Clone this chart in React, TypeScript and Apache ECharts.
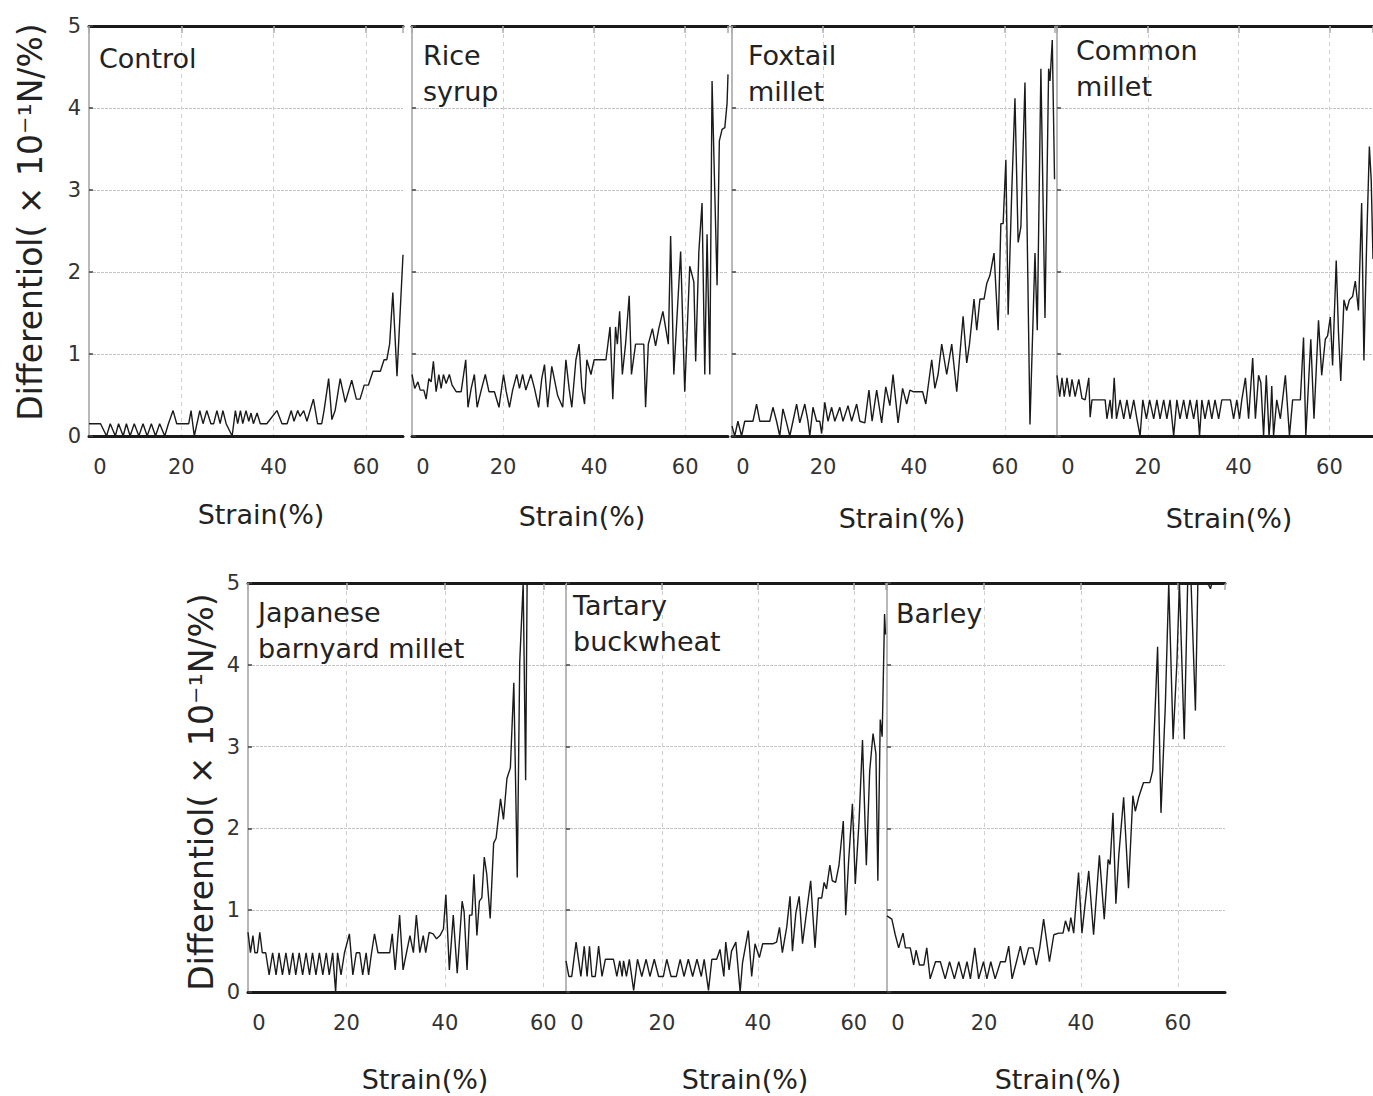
import React, { useEffect, useRef } from 'react';
import * as echarts from 'echarts';

// ---- Data: [strain (%), differential (x10^-1 N/%)] ----
const control: number[][] = [
  [0,0.15],[2.5,0.15],[3.8,0],[4.6,0.15],[5.7,0],[6.4,0.15],[7.4,0],[8.1,0.15],[8.9,0],[9.8,0.15],[10.8,0],[11.7,0.15],[12.6,0],[13.5,0.15],[14.4,0],[15.3,0.15],[16.4,0],[17.2,0.15],[18.2,0.31],[19.0,0.15],[21.6,0.15],[22.1,0.31],[22.8,0],[24.0,0.31],[24.7,0.15],[25.5,0.31],[26.4,0.15],[27.0,0.15],[27.7,0.31],[28.4,0.15],[29.0,0.31],[29.7,0.15],[31.0,0],[31.7,0.31],[32.2,0.15],[32.8,0.31],[33.3,0.15],[34.0,0.31],[34.6,0.18],[35.1,0.28],[35.6,0.15],[36.4,0.28],[37.1,0.15],[38.5,0.15],[40.7,0.31],[41.8,0.15],[42.9,0.15],[43.8,0.31],[44.4,0.18],[45.2,0.31],[45.7,0.24],[46.5,0.31],[47.2,0.18],[48.6,0.45],[49.5,0.15],[50.4,0.15],[50.9,0.31],[51.9,0.7],[52.6,0.2],[53.3,0.31],[54.4,0.7],[55.5,0.41],[56.9,0.68],[57.9,0.45],[58.7,0.45],[59.6,0.62],[60.5,0.62],[61.5,0.79],[63.1,0.79],[63.9,0.93],[64.5,0.93],[65.1,1.12],[65.8,1.75],[66.7,0.73],[68,2.21]
];
const riceSyrup: number[][] = [
  [0,0.75],[0.6,0.58],[1.3,0.66],[1.8,0.56],[2.6,0.56],[3.1,0.45],[3.7,0.7],[4.2,0.66],[4.7,0.91],[5.3,0.54],[5.9,0.75],[6.4,0.58],[6.9,0.75],[7.5,0.64],[8.2,0.75],[8.8,0.62],[9.7,0.54],[10.8,0.54],[11.8,0.93],[12.3,0.35],[13.0,0.58],[13.7,0.75],[14.3,0.35],[15.2,0.56],[16.1,0.75],[16.9,0.54],[18.1,0.54],[19.1,0.35],[20.1,0.75],[20.7,0.54],[21.4,0.35],[22.1,0.56],[23.0,0.75],[23.6,0.58],[24.3,0.75],[25.0,0.56],[26.1,0.75],[26.9,0.58],[27.8,0.35],[28.5,0.7],[29.1,0.87],[29.8,0.35],[30.7,0.85],[32.0,0.49],[33.1,0.35],[33.8,0.93],[34.5,0.58],[35.1,0.35],[36.0,0.93],[36.7,1.12],[37.3,0.58],[37.9,0.39],[38.4,0.93],[39.3,0.75],[40.0,0.93],[42.6,0.93],[43.5,1.33],[44.1,0.45],[44.7,1.33],[45.1,1.12],[45.6,1.52],[46.2,0.75],[46.9,1.12],[47.7,1.71],[48.2,0.75],[49.1,1.12],[50.9,1.12],[51.3,0.35],[51.9,1.12],[52.8,1.31],[53.5,1.1],[54.2,1.31],[55.1,1.52],[56.3,1.12],[56.8,2.44],[57.5,0.75],[59.0,2.25],[59.9,0.54],[61.0,2.07],[61.9,1.88],[62.3,0.91],[63.0,2.25],[63.7,2.84],[64.3,0.75],[64.8,2.46],[65.4,0.75],[65.9,4.33],[67.0,1.84],[67.5,3.6],[68.1,3.74],[68.7,3.76],[69.2,4.06],[69.4,4.41]
];
const foxtailMillet: number[][] = [
  [0,0.12],[0.6,0],[1.3,0.18],[2.1,0],[2.8,0.18],[4.6,0.18],[5.4,0.39],[6.1,0.18],[8.3,0.18],[9.0,0.35],[9.8,0.18],[10.5,0],[11.2,0.33],[12.0,0.16],[12.7,0],[13.4,0.18],[14.2,0.39],[14.9,0.16],[16.0,0.39],[16.7,0.18],[17.1,0],[17.8,0.35],[18.6,0.18],[19.3,0.18],[19.7,0.03],[20.4,0.41],[21.1,0.18],[21.9,0.35],[22.6,0.18],[23.7,0.35],[24.4,0.18],[25.5,0.37],[26.3,0.18],[27.4,0.39],[28.1,0.18],[29.2,0.16],[30.1,0.56],[30.8,0.18],[31.8,0.56],[32.9,0.16],[33.8,0.6],[34.7,0.37],[35.4,0.75],[36.5,0.16],[37.5,0.58],[38.4,0.39],[39.1,0.56],[39.8,0.54],[41.9,0.54],[42.6,0.39],[43.9,0.93],[44.6,0.58],[45.3,0.75],[46.1,1.12],[47.2,0.75],[48.3,1.12],[49.4,0.54],[50.8,1.46],[51.6,0.89],[52.2,1.12],[53.2,1.67],[53.8,1.29],[54.5,1.67],[55.4,1.67],[56.0,1.86],[56.7,1.96],[57.6,2.23],[58.5,1.29],[59.1,2.59],[59.6,2.59],[60.2,3.37],[60.7,1.48],[61.5,2.99],[62.2,4.12],[62.9,2.36],[63.5,2.55],[64.4,4.31],[65.5,0.14],[66.6,2.23],[67.1,1.29],[67.9,4.48],[68.8,1.44],[69.6,4.48],[69.9,4.33],[70.4,4.83],[70.9,3.13]
];
const commonMillet: number[][] = [
  [0,0.74],[0.6,0.48],[1.1,0.71],[1.6,0.48],[2.2,0.71],[2.8,0.48],[3.3,0.69],[4.0,0.48],[4.8,0.69],[5.5,0.46],[6.2,0.44],[7.0,0.71],[7.3,0.23],[7.7,0.44],[10.6,0.44],[11.0,0.21],[11.7,0.44],[12.1,0.21],[12.6,0.71],[13.1,0.21],[13.9,0.44],[14.7,0.21],[15.4,0.44],[16.1,0.21],[16.9,0.44],[17.6,0.21],[18.3,0],[18.9,0.44],[19.7,0.21],[20.4,0.44],[21.3,0.21],[22.0,0.44],[22.7,0.21],[23.5,0.44],[24.2,0.21],[24.9,0.44],[25.7,0],[26.4,0.44],[27.1,0.21],[27.9,0.44],[28.6,0.21],[29.3,0.44],[30.1,0.21],[30.8,0.44],[31.4,0],[31.9,0.44],[32.6,0.21],[33.4,0.44],[34.1,0.21],[34.8,0.44],[35.6,0.21],[36.3,0.44],[38.2,0.44],[38.9,0.21],[39.6,0.44],[40.2,0.21],[40.7,0.44],[41.5,0.71],[42.2,0.21],[43.1,0.95],[43.7,0.21],[44.4,0.74],[44.9,0.65],[45.5,0],[46.1,0.74],[46.7,0],[47.0,0.21],[47.3,0.61],[47.7,0],[48.4,0.44],[49.2,0.21],[50.3,0.74],[51.2,0],[51.9,0.44],[53.6,0.44],[54.3,1.2],[54.8,0],[55.9,1.18],[56.6,0.21],[57.6,1.41],[58.3,0.74],[59.1,1.18],[59.6,1.22],[60.2,1.45],[60.7,0.86],[61.5,2.14],[62.0,1.26],[62.5,0.67],[63.2,1.66],[63.8,1.53],[64.4,1.66],[65.1,1.7],[65.7,1.89],[66.4,1.53],[67.1,2.84],[67.6,0.92],[68.2,2.35],[68.8,3.53],[69.2,3.13],[69.6,2.16]
];
const japaneseBarnyardMillet: number[][] = [
  [0,0.73],[0.5,0.48],[1.0,0.69],[1.4,0.48],[1.9,0.48],[2.4,0.73],[2.9,0.48],[3.6,0.48],[4.3,0.21],[5.0,0.48],[5.7,0.21],[6.3,0.48],[7.0,0.21],[7.7,0.48],[8.4,0.21],[9.1,0.48],[9.7,0.21],[10.4,0.48],[11.1,0.21],[11.8,0.48],[12.5,0.21],[13.1,0.48],[13.8,0.21],[14.5,0.48],[15.2,0.21],[15.9,0.48],[16.5,0.21],[17.2,0.48],[17.8,0],[18.2,0.48],[18.9,0.21],[19.6,0.48],[20.6,0.71],[21.3,0.21],[22.0,0.48],[22.7,0.48],[23.3,0.21],[24.0,0.48],[24.5,0.21],[25.1,0.48],[25.7,0.71],[26.4,0.48],[28.8,0.48],[29.3,0.71],[29.9,0.27],[30.8,0.94],[31.5,0.27],[32.2,0.48],[32.9,0.69],[33.6,0.48],[34.2,0.94],[34.9,0.48],[35.6,0.69],[36.1,0.48],[36.8,0.73],[37.6,0.71],[38.3,0.65],[39.0,0.69],[39.7,0.77],[40.2,1.19],[40.9,0.27],[41.7,0.94],[42.5,0.23],[43.5,1.11],[43.9,0.98],[44.5,0.27],[45.0,0.94],[45.5,0.94],[45.9,1.44],[46.5,0.69],[47.0,1.11],[47.5,1.15],[48.0,1.65],[48.5,1.44],[49.2,0.9],[49.9,1.82],[50.4,1.88],[51.3,2.36],[51.9,2.11],[52.6,2.61],[53.3,2.74],[54.0,3.78],[54.7,1.4],[55.2,4.03],[55.9,5],[56.4,2.59],[56.7,5],[64.6,5]
];
const tartaryBuckwheat: number[][] = [
  [0,0.38],[0.6,0.19],[1.2,0.19],[2.1,0.61],[2.6,0.4],[3.1,0.19],[3.8,0.56],[4.4,0.19],[4.9,0.56],[5.4,0.19],[6.1,0.19],[6.8,0.56],[7.5,0.19],[8.2,0.4],[9.9,0.4],[10.6,0.19],[11.2,0.38],[11.7,0.19],[12.0,0.38],[12.6,0.19],[13.2,0.4],[14.1,0.02],[14.9,0.4],[15.8,0.19],[16.7,0.4],[17.5,0.19],[18.4,0.4],[19.3,0.19],[20.3,0.19],[21.0,0.4],[21.9,0.19],[23.0,0.19],[23.8,0.4],[24.6,0.19],[25.5,0.4],[26.4,0.19],[27.3,0.4],[28.2,0.19],[28.8,0.4],[29.7,0.02],[30.4,0.4],[31.4,0.4],[32.1,0.52],[32.9,0.19],[33.3,0.61],[34.0,0.27],[34.5,0.5],[35.4,0.61],[36.3,0],[36.8,0.36],[38.0,0.75],[38.7,0.19],[39.4,0.59],[40.3,0.42],[41.0,0.59],[43.2,0.59],[43.9,0.61],[44.5,0.79],[45.1,0.48],[46.0,0.79],[46.7,1.17],[47.2,0.5],[47.9,0.96],[48.6,1.17],[49.3,0.59],[50.1,0.96],[51.0,1.36],[51.9,0.54],[52.6,1.15],[53.3,1.15],[53.8,1.34],[54.3,1.26],[55.0,1.55],[55.5,1.36],[56.2,1.34],[56.9,1.55],[57.8,2.09],[58.3,0.94],[58.9,1.59],[59.7,2.3],[60.3,1.32],[61.1,2.11],[61.8,3.08],[62.6,1.55],[63.3,2.7],[64.0,3.16],[64.6,2.91],[65.0,1.36],[65.5,3.33],[65.9,3.12],[66.4,4.62],[66.6,4.37]
];
const barley: number[][] = [
  [0,0.93],[1.0,0.89],[1.7,0.7],[2.4,0.54],[3.3,0.72],[3.8,0.54],[4.8,0.54],[5.5,0.33],[6.0,0.51],[6.7,0.33],[7.6,0.33],[8.2,0.54],[8.9,0.16],[10.0,0.37],[11.0,0.37],[12.0,0.16],[12.9,0.37],[13.9,0.16],[14.8,0.37],[15.7,0.16],[16.5,0.37],[17.2,0.16],[18.1,0.54],[18.9,0.16],[19.9,0.37],[20.6,0.16],[21.4,0.37],[22.3,0.16],[23.4,0.37],[24.4,0.37],[25.1,0.56],[25.8,0.16],[26.7,0.37],[27.5,0.56],[28.3,0.33],[29.2,0.54],[30.1,0.54],[30.8,0.33],[31.5,0.54],[32.3,0.89],[33.5,0.37],[34.4,0.7],[35.4,0.72],[36.3,0.72],[36.8,0.87],[37.5,0.74],[37.9,0.91],[38.5,0.72],[38.8,0.95],[39.5,1.46],[40.2,0.72],[41.6,1.48],[42.6,0.7],[43.8,1.67],[44.8,0.89],[45.6,1.62],[46.0,1.56],[46.6,2.19],[47.2,1.08],[47.8,1.67],[48.8,2.38],[49.8,1.27],[50.7,2.4],[51.2,2.21],[51.9,2.38],[52.9,2.56],[54.2,2.56],[54.8,2.71],[55.8,4.22],[56.5,2.19],[57.4,3.51],[58.1,5],[59.0,3.09],[59.8,4.05],[60.3,5],[61.3,3.09],[62.0,5],[62.7,5],[63.6,3.44],[64.1,5],[66.3,4.98],[66.7,4.93],[67.0,5],[69.7,5]
];

const panelNames: string[] = ['Control', 'Rice\nsyrup', 'Foxtail\nmillet', 'Common\nmillet', 'Japanese\nbarnyard millet', 'Tartary\nbuckwheat', 'Barley'];
const panelData: number[][][] = [control, riceSyrup, foxtailMillet, commonMillet, japaneseBarnyardMillet, tartaryBuckwheat, barley];
const strainMax: number[] = [68, 69.4, 71, 69.6, 64.6, 66.7, 69.7];
const yTicks: number[] = [0, 1, 2, 3, 4, 5];
const xTickStep = 20;
const yTitle = 'Differentiol( × 10⁻¹N/%)';
const xTitle = 'Strain(%)';

// ---- Layout (pixels) ----
const layout = [
  { left: 89, top: 26, width: 314, height: 410, showY: true, tx: 99, ty: 40, sx: 261, sy: 514 },
  { left: 412, top: 26, width: 316, height: 410, showY: false, tx: 423, ty: 37, sx: 582, sy: 516 },
  { left: 732, top: 26, width: 323, height: 410, showY: false, tx: 748, ty: 37, sx: 902, sy: 518 },
  { left: 1057, top: 26, width: 318, height: 410, showY: false, tx: 1076, ty: 32, sx: 1229, sy: 518 },
  { left: 248, top: 583, width: 318, height: 409, showY: true, tx: 258, ty: 594, sx: 425, sy: 1079 },
  { left: 566, top: 583, width: 320, height: 409, showY: false, tx: 573, ty: 587, sx: 745, sy: 1079 },
  { left: 887, top: 583, width: 338, height: 409, showY: false, tx: 896, ty: 595, sx: 1058, sy: 1079 },
];
const yTitlePos = [ { x: 30, y: 222 }, { x: 201, y: 792 } ];

const FONT = 'DejaVu Sans';
const TEXT = '#222';

function buildOption() {
  const grid = layout.map((l) => ({ left: l.left, top: l.top, width: l.width, height: l.height }));
  const xAxis: any[] = [];
  const yAxis: any[] = [];
  const series: any[] = [];
  layout.forEach((l, i) => {
    xAxis.push({
      type: 'value', gridIndex: i, position: 'bottom', min: 0, max: strainMax[i], interval: xTickStep,
      axisLine: { show: true, onZero: false, lineStyle: { color: '#1a1a1a', width: 3 } },
      axisTick: { show: false },
      axisLabel: {
        show: true, showMaxLabel: false, margin: 20, fontSize: 21, color: '#333', fontFamily: FONT,
        formatter: (v: number) => (v === 0 ? '{z|0}' : (v % xTickStep === 0 ? String(v) : '')),
        rich: { z: { padding: [0, 0, 0, 22], fontSize: 21, color: '#333', fontFamily: FONT } },
      },
      splitLine: { show: true, showMinLine: false, showMaxLine: false, lineStyle: { color: '#cfcfcf', width: 1, type: [4, 4] } },
    });
    xAxis.push({
      type: 'value', gridIndex: i, position: 'top', min: 0, max: strainMax[i], interval: xTickStep,
      axisLine: { show: true, onZero: false, lineStyle: { color: '#1a1a1a', width: 3 } },
      axisTick: { show: true, inside: true, length: 7, lineStyle: { color: '#aaa', width: 1.5 } },
      axisLabel: { show: false },
      splitLine: { show: false },
    });
    yAxis.push({
      type: 'value', gridIndex: i, min: yTicks[0], max: yTicks[yTicks.length - 1], interval: 1,
      axisLine: { show: true, onZero: false, lineStyle: { color: '#a0a0a0', width: 1.5 } },
      axisTick: { show: true, inside: true, length: 4, lineStyle: { color: '#444', width: 1.5 } },
      axisLabel: { show: l.showY, margin: 8, fontSize: 21, color: '#333', fontFamily: FONT },
      splitLine: { show: true, showMinLine: false, showMaxLine: false, lineStyle: { color: '#c4c4c4', width: 1.2, type: [3, 1] } },
    });
    series.push({
      type: 'line', xAxisIndex: i * 2, yAxisIndex: i, data: panelData[i], showSymbol: false, symbol: 'none',
      lineStyle: { color: '#1a1a1a', width: 1.4 }, clip: true, z: 5,
    });
  });

  const graphic: any[] = [];
  layout.forEach((l, i) => {
    graphic.push({ type: 'text', x: l.tx, y: l.ty, z: 10, style: { text: panelNames[i], fontSize: 27, lineHeight: 36, fontFamily: FONT, fill: TEXT, align: 'left', verticalAlign: 'top' } });
    graphic.push({ type: 'text', x: l.sx, y: l.sy, z: 10, style: { text: xTitle, fontSize: 27, fontFamily: FONT, fill: TEXT, align: 'center', verticalAlign: 'middle' } });
  });
  yTitlePos.forEach((p) => {
    graphic.push({ type: 'text', x: p.x, y: p.y, rotation: Math.PI / 2, z: 10, style: { text: yTitle, fontSize: 33, fontFamily: FONT, fill: TEXT, align: 'center', verticalAlign: 'middle' } });
  });

  return { animation: false, backgroundColor: '#fff', grid, xAxis, yAxis, series, graphic };
}

export default function App() {
  const ref = useRef<HTMLDivElement>(null);
  useEffect(() => {
    if (!ref.current) return;
    const chart = echarts.init(ref.current, null, { renderer: 'svg' });
    chart.setOption(buildOption() as any);
    return () => chart.dispose();
  }, []);
  return <div ref={ref} style={{ position: 'absolute', left: 0, top: 0, width: 1373, height: 1096, background: '#fff' }} />;
}
